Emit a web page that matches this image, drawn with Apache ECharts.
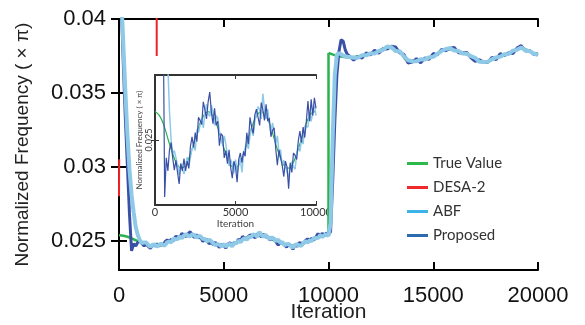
<!DOCTYPE html>
<html>
<head>
<meta charset="utf-8">
<script src="https://cdn.jsdelivr.net/npm/echarts@6/dist/echarts.min.js"></script>
<style>
  html, body { margin: 0; padding: 0; background: #fff; }
  #chart { width: 585px; height: 325px; }
</style>
</head>
<body>
<div id="chart"></div>
<script>
// iteration step of the first half (0..10000)
const iterStep = 100;

// true value, first half (sinusoid)
const trueIter = [0, 275, 550, 825, 1100, 1375, 1650, 1925, 2200, 2475, 2750, 3025,
  3300, 3575, 3850, 4125, 4400, 4675, 4950, 5225, 5500, 5775, 6050, 6325,
  6600, 6875, 7150, 7425, 7700, 7975, 8250, 8525, 8800, 9075, 9350, 9625, 9900, 10000];
const trueVal = [0.02535, 0.0253, 0.02518, 0.025, 0.02483, 0.0247, 0.02465, 0.0247, 0.02483, 0.025, 0.02518, 0.0253,
  0.02535, 0.0253, 0.02518, 0.025, 0.02483, 0.0247, 0.02465, 0.0247, 0.02483, 0.025, 0.02518, 0.0253,
  0.02535, 0.0253, 0.02518, 0.025, 0.02483, 0.0247, 0.02465, 0.0247, 0.02483, 0.025, 0.02518, 0.0253, 0.02535, 0.02534];
// the jump at 10000 and the second half
const trueJumpIter = [10000, 10000];
const trueJumpVal = [0.02534, 0.0377];
const trueLateIter = [10000, 11000, 11600, 12200, 12800, 13400, 13800, 14400, 15000, 15600,
  16200, 16800, 17400, 18000, 18600, 19200, 19800, 20000];
const trueLateVal = [0.0377, 0.0374, 0.0375, 0.0377, 0.03805, 0.03779, 0.03718, 0.03723, 0.03749, 0.03795,
  0.03781, 0.03749, 0.03708, 0.03736, 0.03768, 0.038, 0.03766, 0.03757];

// DESA-2 (mostly off the top of the scale)
const desaIter = [0, 8, 900, 1800, 1800];
const desaVal = [0.028, 0.0305, '-', 0.05, 0.0375];

// Proposed, 0..10000 every 100 iterations
const proposedEarly = [
  0.045, 0.0415, 0.0372, 0.0334, 0.0301, 0.0268, 0.0243, 0.02478, 0.02462, 0.02488,
  0.02497, 0.02478, 0.02463, 0.02475, 0.0246, 0.02446, 0.02471, 0.02462, 0.02477, 0.02462,
  0.02474, 0.02465, 0.02492, 0.02504, 0.02491, 0.02509, 0.02498, 0.02528, 0.02524, 0.02519,
  0.02547, 0.02537, 0.02526, 0.02547, 0.02559, 0.02535, 0.0252, 0.02539, 0.02518, 0.02523,
  0.02493, 0.02508, 0.02505, 0.02478, 0.02487, 0.02471, 0.02488, 0.02466, 0.02453, 0.02474,
  0.02467, 0.02448, 0.02476, 0.02484, 0.02472, 0.02486, 0.0248, 0.02509, 0.02495, 0.02528,
  0.02516, 0.02508, 0.02531, 0.02538, 0.02528, 0.02518, 0.02546, 0.02537, 0.02524, 0.02544,
  0.02523, 0.02527, 0.02504, 0.02512, 0.02515, 0.02489, 0.02469, 0.02488, 0.02486, 0.02469,
  0.02455, 0.02474, 0.02467, 0.0244, 0.02472, 0.0246, 0.02484, 0.02481, 0.02476, 0.02499,
  0.02511, 0.02497, 0.02516, 0.02503, 0.02523, 0.02548, 0.02523, 0.0255, 0.0253, 0.02552, 0.02539];

// ABF, 0..10000 every 100 iterations
const abfEarly = [
  0.045, 0.0418, 0.0385, 0.0352, 0.0322, 0.0298, 0.0281, 0.0269, 0.0259, 0.02535,
  0.025, 0.02483, 0.02487, 0.02486, 0.02469, 0.02457, 0.02471, 0.02473, 0.02458, 0.02468,
  0.02479, 0.02468, 0.02468, 0.02489, 0.02492, 0.02487, 0.02513, 0.02509, 0.0251, 0.02527,
  0.02515, 0.02533, 0.02544, 0.02532, 0.02529, 0.02543, 0.02535, 0.02518, 0.0253, 0.02527,
  0.02511, 0.0251, 0.02494, 0.02505, 0.02495, 0.0248, 0.02468, 0.02476, 0.0247, 0.02459,
  0.02476, 0.0246, 0.02469, 0.02477, 0.0246, 0.02483, 0.02481, 0.02498, 0.02489, 0.02506,
  0.02515, 0.02505, 0.02523, 0.02524, 0.02541, 0.02537, 0.02526, 0.02557, 0.02538, 0.02526,
  0.02538, 0.02522, 0.02509, 0.02521, 0.0251, 0.02495, 0.02505, 0.02485, 0.02488, 0.02468,
  0.02475, 0.02477, 0.02461, 0.02453, 0.02469, 0.02473, 0.02467, 0.02464, 0.02483, 0.02494,
  0.02486, 0.025, 0.02495, 0.02517, 0.02517, 0.02516, 0.02535, 0.02523, 0.02535, 0.02542, 0.0253];

// second half
const lateIter = [10100, 10200, 10300, 10400, 10500, 10600, 10700, 10800, 10900,
  11000, 11200, 11400, 11600, 11800, 12000, 12200, 12400, 12600, 12800,
  13000, 13200, 13400, 13600, 13800, 14000, 14200, 14400, 14600, 14800,
  15000, 15200, 15400, 15600, 15800, 16000, 16200, 16400, 16600, 16800,
  17000, 17200, 17400, 17600, 17800, 18000, 18200, 18400, 18600, 18800,
  19000, 19200, 19400, 19600, 19800, 20000];
const proposedLate = [0.0256, 0.029, 0.033, 0.0362, 0.0378, 0.0386, 0.0385, 0.0379, 0.0376,
  0.03749, 0.03722, 0.03747, 0.03735, 0.0377, 0.03757, 0.03788, 0.03768, 0.03798, 0.03796,
  0.03816, 0.03811, 0.03771, 0.0376, 0.03702, 0.03708, 0.03732, 0.03703, 0.03736, 0.03727,
  0.03766, 0.03757, 0.03794, 0.03785, 0.03802, 0.03808, 0.03772, 0.0377, 0.03774, 0.03737,
  0.03714, 0.03724, 0.03708, 0.03706, 0.0374, 0.03725, 0.03765, 0.03752, 0.03771, 0.03766,
  0.03803, 0.0382, 0.03783, 0.03786, 0.03761, 0.03764];
const abfLate = [0.0262, 0.032, 0.0362, 0.0376, 0.03768, 0.03762, 0.03752, 0.03748, 0.03744,
  0.03743, 0.03738, 0.03738, 0.03755, 0.03754, 0.03767, 0.03767, 0.03783, 0.0379, 0.03814,
  0.03809, 0.03784, 0.03782, 0.03746, 0.03721, 0.03714, 0.03713, 0.03727, 0.03725, 0.0374,
  0.03744, 0.03764, 0.03783, 0.03797, 0.03802, 0.03787, 0.03784, 0.03766, 0.03764, 0.03748,
  0.03737, 0.03711, 0.03709, 0.03711, 0.03727, 0.0374, 0.03745, 0.03761, 0.03763, 0.03786,
  0.03791, 0.03807, 0.03788, 0.03782, 0.03767, 0.03755];

const yTicks = [0.025, 0.03, 0.035, 0.04];
const insetYTicks = [0.025];

const zip = (xs, ys) => xs.map((x, i) => [x, ys[i]]);
const early = arr => arr.map((v, i) => [i * iterStep, v]);

const trueFirst = zip(trueIter, trueVal);
const trueJump = zip(trueJumpIter, trueJumpVal);
const trueLate = zip(trueLateIter, trueLateVal);
const desa = zip(desaIter, desaVal);
const proposedFirst = early(proposedEarly);
const abfFirst = early(abfEarly);
const proposed = proposedFirst.concat(zip(lateIter, proposedLate));
const abf = abfFirst.concat(zip(lateIter, abfLate));

const GREEN = '#2bb24c', RED = '#ed2328', LIGHT = '#8ecae8', DARK = '#3a50a6';
const frame = { lineStyle: { color: '#000', width: 2 } };
const insetFrame = { lineStyle: { color: '#333', width: 2 } };
const labelFont = 'Liberation Sans, Arial, sans-serif';
const plain = v => String(v);

const chart = echarts.init(document.getElementById('chart'));
chart.setOption({
  animation: false,
  backgroundColor: '#fff',
  grid: [
    { left: 119, right: 47, top: 19, bottom: 55, outerBoundsMode: 'none' },
    { left: 155, right: 269, top: 75, bottom: 120, outerBoundsMode: 'none', show: true, backgroundColor: '#fff', borderWidth: 0 }
  ],
  legend: {
    orient: 'vertical',
    left: 402,
    top: 151,
    icon: 'rect',
    itemWidth: 21,
    itemHeight: 3,
    itemGap: 9,
    textStyle: { fontFamily: 'Lato', fontSize: 15, color: '#333' },
    data: [
      { name: 'True Value', itemStyle: { color: '#2db84c' } },
      { name: 'DESA-2', itemStyle: { color: '#ee2a2a' } },
      { name: 'ABF', itemStyle: { color: '#3cb4ea' } },
      { name: 'Proposed', itemStyle: { color: '#2b6cb0' } }
    ]
  },
  xAxis: [
    {
      type: 'value', gridIndex: 0, min: 0, max: 20000, interval: 5000,
      axisLine: frame, splitLine: { show: false },
      axisTick: { inside: true, length: 8, lineStyle: { color: '#000', width: 2 } },
      axisLabel: { formatter: plain, fontFamily: labelFont, fontSize: 22, color: '#111', margin: 15 },
      name: 'Iteration', nameLocation: 'middle', nameGap: 32, nameMoveOverlap: false,
      nameTextStyle: { fontFamily: labelFont, fontSize: 21, color: '#222' }
    },
    {
      type: 'value', gridIndex: 0, position: 'top', min: 0, max: 20000, interval: 5000,
      axisLine: frame, splitLine: { show: false }, axisLabel: { show: false },
      axisTick: { inside: true, length: 8, lineStyle: { color: '#000', width: 2 } }
    },
    {
      type: 'value', gridIndex: 1, min: 0, max: 10000, interval: 5000,
      axisLine: insetFrame, splitLine: { show: false },
      axisTick: { inside: true, length: 4, lineStyle: { color: '#333', width: 1 } },
      axisLabel: { formatter: plain, fontFamily: 'Lato', fontSize: 11, color: '#333', margin: 2 },
      name: 'Iteration', nameLocation: 'middle', nameGap: 14, nameMoveOverlap: false,
      nameTextStyle: { fontFamily: 'Lato', fontSize: 10, color: '#444' }
    },
    {
      type: 'value', gridIndex: 1, position: 'top', min: 0, max: 10000, interval: 5000,
      axisLine: insetFrame, splitLine: { show: false }, axisLabel: { show: false },
      axisTick: { inside: true, length: 4, lineStyle: { color: '#333', width: 1 } }
    }
  ],
  yAxis: [
    {
      type: 'value', gridIndex: 0, min: 0.023, max: 0.04,
      axisLine: frame, splitLine: { show: false },
      axisTick: { inside: true, length: 8, customValues: yTicks, lineStyle: { color: '#000', width: 2 } },
      axisLabel: { customValues: yTicks, formatter: plain, fontFamily: labelFont, fontSize: 22, color: '#111', margin: 13 },
      name: 'Normalized Frequency ( × π)', nameLocation: 'middle', nameGap: 87, nameMoveOverlap: false,
      nameTextStyle: { fontFamily: labelFont, fontSize: 19, color: '#222' }
    },
    {
      type: 'value', gridIndex: 0, position: 'right', min: 0.023, max: 0.04,
      axisLine: frame, splitLine: { show: false }, axisLabel: { show: false },
      axisTick: { inside: true, length: 8, customValues: yTicks, lineStyle: { color: '#000', width: 2 } }
    },
    {
      type: 'value', gridIndex: 1, min: 0.0242, max: 0.0258,
      axisLine: insetFrame, splitLine: { show: false },
      axisTick: { inside: true, length: 4, customValues: insetYTicks, lineStyle: { color: '#333', width: 1 } },
      axisLabel: { customValues: insetYTicks, formatter: plain, rotate: 90, fontFamily: 'Lato', fontSize: 9, color: '#333', margin: 1 },
      name: 'Normalized Frequency ( × π)', nameLocation: 'middle', nameGap: 12, nameMoveOverlap: false,
      nameTextStyle: { fontFamily: 'Lato', fontSize: 8, color: '#444' }
    },
    {
      type: 'value', gridIndex: 1, position: 'right', min: 0.0242, max: 0.0258,
      axisLine: insetFrame, splitLine: { show: false }, axisLabel: { show: false },
      axisTick: { inside: true, length: 4, customValues: insetYTicks, lineStyle: { color: '#333', width: 1 } }
    }
  ],
  series: [
    { name: 'True Value', type: 'line', xAxisIndex: 0, yAxisIndex: 0, data: trueFirst, smooth: true, showSymbol: false, lineStyle: { color: GREEN, width: 2.5 }, itemStyle: { color: GREEN } },
    { name: 'True Value', type: 'line', xAxisIndex: 0, yAxisIndex: 0, data: trueJump, showSymbol: false, lineStyle: { color: GREEN, width: 2.5 }, itemStyle: { color: GREEN } },
    { name: 'True Value', type: 'line', xAxisIndex: 0, yAxisIndex: 0, data: trueLate, smooth: true, showSymbol: false, lineStyle: { color: GREEN, width: 2.5 }, itemStyle: { color: GREEN } },
    { name: 'DESA-2', type: 'line', xAxisIndex: 0, yAxisIndex: 0, data: desa, connectNulls: false, showSymbol: false, lineStyle: { color: RED, width: 2 }, itemStyle: { color: RED } },
    { name: 'Proposed', type: 'line', xAxisIndex: 0, yAxisIndex: 0, data: proposed, showSymbol: false, lineStyle: { color: DARK, width: 3 }, itemStyle: { color: DARK } },
    { name: 'ABF', type: 'line', xAxisIndex: 0, yAxisIndex: 0, data: abf, showSymbol: false, lineStyle: { color: LIGHT, width: 4 }, itemStyle: { color: LIGHT } },
    // inset
    { name: 'True Value', type: 'line', xAxisIndex: 2, yAxisIndex: 2, data: trueFirst, smooth: true, showSymbol: false, lineStyle: { color: GREEN, width: 1.2 }, itemStyle: { color: GREEN } },
    { name: 'ABF', type: 'line', xAxisIndex: 2, yAxisIndex: 2, data: abfFirst, showSymbol: false, lineStyle: { color: LIGHT, width: 1.5 }, itemStyle: { color: LIGHT } },
    { name: 'Proposed', type: 'line', xAxisIndex: 2, yAxisIndex: 2, data: proposedFirst, showSymbol: false, lineStyle: { color: DARK, width: 1.2 }, itemStyle: { color: DARK } }
  ]
});
</script>
</body>
</html>
